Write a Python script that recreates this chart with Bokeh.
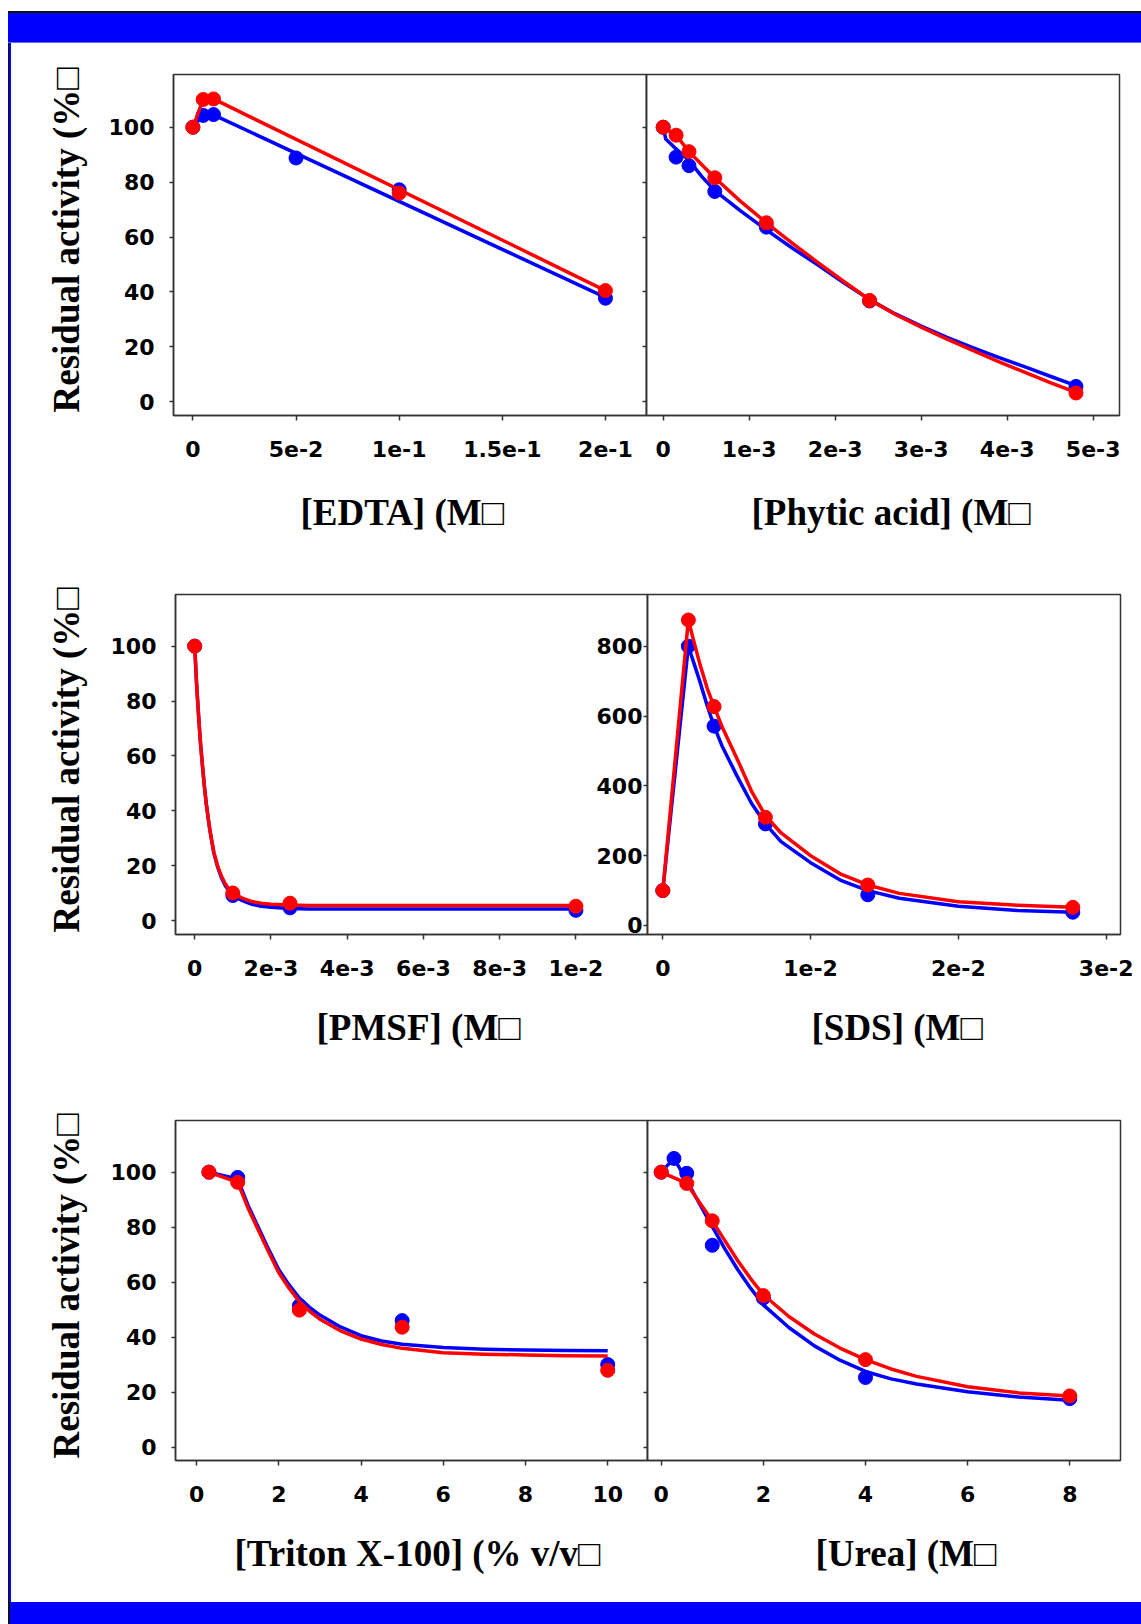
from bokeh.plotting import figure
from bokeh.models import Range1d, FixedTicker, Div, Title
from bokeh.layouts import row, column
from bokeh.embed import file_html
from bokeh.resources import INLINE

# ---------------- data ----------------
# EDTA (M)
edta_blue_x = [0, 0.005, 0.01, 0.05, 0.1, 0.2]
edta_blue_y = [100, 104.3, 104.6, 88.8, 77.2, 37.7]
edta_red_x = [0, 0.005, 0.01, 0.1, 0.2]
edta_red_y = [100, 110.1, 110.3, 76.0, 40.5]
edta_blue_fit_x = [0, 0.005, 0.01, 0.2]
edta_blue_fit_y = [100, 104.5, 104.5, 38.0]
edta_red_fit_x = [0, 0.005, 0.01, 0.2]
edta_red_fit_y = [100, 110.1, 110.3, 40.5]

# Phytic acid (M)
phy_x = [0, 0.00015, 0.0003, 0.0006, 0.0012, 0.0024, 0.0048]
phy_blue_y = [100, 89.1, 86.0, 76.6, 63.6, 36.7, 5.6]
phy_red_y = [100, 97.1, 91.1, 81.6, 65.2, 36.9, 3.2]
phy_blue_fit_x = [0, 0.00003, 0.00015, 0.0003, 0.00045, 0.0006, 0.0009, 0.0012, 0.0015,
                  0.0018, 0.0021, 0.0024, 0.0027, 0.003, 0.0033, 0.0036, 0.0039, 0.0042,
                  0.0045, 0.0048]
phy_blue_fit_y = [100, 95.7, 92.1, 87.9, 82.0, 76.9, 69.5, 62.6, 56.0, 49.8, 43.3, 37.2,
                  32.0, 27.6, 23.5, 19.7, 16.2, 12.8, 9.3, 5.9]
phy_red_fit_x = [0, 0.00015, 0.0003, 0.00045, 0.0006, 0.0009, 0.0012, 0.0015, 0.0018,
                 0.0021, 0.0024, 0.0027, 0.003, 0.0033, 0.0036, 0.0039, 0.0042, 0.0045,
                 0.0048]
phy_red_fit_y = [100, 97.1, 91.1, 86.3, 81.6, 73.0, 65.2, 57.8, 50.7, 43.8, 37.2, 31.8,
                 27.2, 22.8, 18.7, 14.6, 10.8, 7.0, 3.4]

# PMSF (M)
pmsf_x = [0, 0.001, 0.0025, 0.01]
pmsf_blue_y = [100, 9.2, 4.7, 3.8]
pmsf_red_y = [100, 10.1, 6.4, 5.3]
pmsf_fit_x = [0, 0.00005, 0.0001, 0.00015, 0.0002, 0.00025, 0.0003, 0.00035, 0.0004,
              0.0005, 0.0006, 0.0007, 0.0008, 0.0009, 0.001, 0.00125, 0.0015, 0.00175,
              0.002, 0.0025, 0.003, 0.01]
pmsf_blue_fit_y = [100, 86, 75, 65, 57, 49.5, 43, 37.6, 32.8, 24.8, 19.6, 15.7, 12.8,
                   10.8, 9.2, 7.3, 6.0, 5.3, 4.9, 4.5, 4.3, 4.3]
pmsf_red_fit_y = [100, 86, 75, 65, 57, 49.5, 43, 37.8, 33, 25, 20, 16.3, 13.5, 11.5,
                  10.1, 8.2, 7.0, 6.4, 6.0, 5.7, 5.6, 5.6]

# SDS (M)
sds_x = [0, 0.00173, 0.00347, 0.00694, 0.01387, 0.02774]
sds_blue_y = [100, 800, 571, 291, 88, 38]
sds_red_y = [100, 875, 627, 310, 116, 52]
sds_fit_x = [0, 0.00173, 0.002, 0.0025, 0.003, 0.00347, 0.004, 0.005, 0.006, 0.00694,
             0.008, 0.01, 0.012, 0.01387, 0.016, 0.02, 0.024, 0.02774]
sds_blue_fit_y = [100, 800, 765, 700, 630, 571, 515, 430, 350, 291, 240, 180, 130, 100,
                  78, 55, 43, 38]
sds_red_fit_y = [100, 875, 830, 750, 680, 627, 570, 480, 385, 315, 265, 200, 148, 116,
                 92, 68, 58, 52]

# Triton X-100 (% v/v)
tri_x = [0.3, 1, 2.5, 5, 10]
tri_blue_y = [100, 98.1, 51.4, 46.0, 30.0]
tri_red_y = [100, 96.3, 49.8, 43.6, 27.9]
tri_fit_x = [0.3, 1, 1.25, 1.5, 1.75, 2, 2.25, 2.5, 2.75, 3, 3.5, 4, 4.5, 5, 6, 7, 8, 9, 10]
tri_blue_fit_y = [100, 97.5, 88, 80, 72, 64.5, 59, 54.2, 50.8, 48, 43.7, 40.5, 38.6, 37.4,
                  36.2, 35.6, 35.3, 35.1, 35.0]
tri_red_fit_y = [100, 96.3, 87, 79, 71, 63.4, 57.8, 52.9, 49.4, 46.5, 42.3, 39.3, 37.3,
                 35.9, 34.3, 33.8, 33.5, 33.2, 33.1]

# Urea (M)
urea_blue_x = [0, 0.25, 0.5, 1, 2, 4, 8]
urea_blue_y = [100, 105, 99.6, 73.4, 54.2, 25.3, 17.6]
urea_red_x = [0, 0.5, 1, 2, 4, 8]
urea_red_y = [100, 95.9, 82.3, 55.1, 31.8, 18.6]
urea_blue_fit_x = [0, 0.25, 0.5, 0.75, 1, 1.25, 1.5, 1.75, 2, 2.5, 3, 3.5, 4, 4.5, 5, 6, 7, 8]
urea_blue_fit_y = [100, 105, 97, 88.5, 80.2, 72, 64.5, 57.8, 51.7, 43.5, 36.8, 31.6, 27.5,
                   24.8, 22.9, 20.1, 18.2, 17.0]
urea_red_fit_x = [0, 0.5, 0.75, 1, 1.25, 1.5, 1.75, 2, 2.5, 3, 3.5, 4, 4.5, 5, 6, 7, 8]
urea_red_fit_y = [100, 95.9, 89, 82.3, 75, 67.8, 61.3, 55.4, 47.5, 41.1, 36, 31.8, 28.4,
                  25.7, 21.9, 19.7, 18.6]

# ticks and labels
activity_ticks = [0, 20, 40, 60, 80, 100]
activity_labels = ["0", "20", "40", "60", "80", "100"]
blank_labels = ["", "", "", "", "", ""]
sds_y_ticks = [0, 200, 400, 600, 800]
sds_y_labels = ["0", "200", "400", "600", "800"]
edta_ticks = [0, 0.05, 0.1, 0.15, 0.2]
edta_labels = ["0", "5e-2", "1e-1", "1.5e-1", "2e-1"]
phy_ticks = [0, 0.001, 0.002, 0.003, 0.004, 0.005]
phy_labels = ["0", "1e-3", "2e-3", "3e-3", "4e-3", "5e-3"]
pmsf_ticks = [0, 0.002, 0.004, 0.006, 0.008, 0.01]
pmsf_labels = ["0", "2e-3", "4e-3", "6e-3", "8e-3", "1e-2"]
sds_ticks = [0, 0.01, 0.02, 0.03]
sds_labels = ["0", "1e-2", "2e-2", "3e-2"]
tri_ticks = [0, 2, 4, 6, 8, 10]
tri_labels = ["0", "2", "4", "6", "8", "10"]
urea_ticks = [0, 2, 4, 6, 8]
urea_labels = ["0", "2", "4", "6", "8"]

Y_TITLE = "Residual activity (%\u25A1"
BLUE = "#0000FF"
RED = "#FF0000"
AX = "#333333"
TITLE_FONT = "Liberation Serif"
TITLE_SIZE = "37px"


def make_title(text, offset, standoff):
    return Title(text=text, align="left", offset=offset, standoff=standoff,
                 text_font=TITLE_FONT, text_font_style="bold",
                 text_font_size=TITLE_SIZE, text_color="black")


def make_panel(width, height, mb, xr, yr, xticks, xlabels, yticks, ylabels,
               xtitle, title_offset, title_standoff, ytitle=None, ytitle_offset=0,
               ytitle_standoff=40, right=False, y_label_standoff=15, y_tick_out=4):
    l, r, t, b = mb
    p = figure(width=width, height=height,
               x_range=Range1d(*xr), y_range=Range1d(*yr),
               output_backend="svg", toolbar_location=None,
               min_border_left=l, min_border_right=r,
               min_border_top=t, min_border_bottom=b,
               margin=(0, 0, 0, -64) if right else (0, 0, 0, 0))
    p.xgrid.visible = False
    p.ygrid.visible = False
    p.outline_line_color = AX
    p.outline_line_width = 1.5
    p.background_fill_color = "white"
    p.border_fill_alpha = 0
    for ax in (p.xaxis[0], p.yaxis[0]):
        ax.axis_line_color = AX
        ax.axis_line_width = 1.5
        ax.major_tick_line_color = AX
        ax.major_tick_line_width = 1.5
        ax.major_tick_in = 0
        ax.minor_tick_line_color = None
        ax.major_label_text_font = "DejaVu Sans"
        ax.major_label_text_font_style = "bold"
        ax.major_label_text_font_size = "22px"
        ax.major_label_text_color = "black"
    xa = p.xaxis[0]
    xa.ticker = FixedTicker(ticks=xticks)
    xa.major_label_overrides = dict(zip(xticks, xlabels))
    xa.major_tick_out = 5
    xa.major_label_standoff = 20
    ya = p.yaxis[0]
    ya.ticker = FixedTicker(ticks=yticks)
    ya.major_label_overrides = dict(zip(yticks, ylabels))
    ya.major_tick_out = y_tick_out
    ya.major_label_standoff = y_label_standoff
    # axis titles
    p.add_layout(make_title(xtitle, title_offset, title_standoff), "below")
    if ytitle:
        p.add_layout(make_title(ytitle, ytitle_offset, ytitle_standoff), "left")
    return p


def add_series(p, fx, fy, px, py, color):
    p.line(fx, fy, line_color=color, line_width=3.5, line_join="round")
    p.scatter(px, py, size=14, fill_color=color, line_color=color)


# ---------------- row 1 ----------------
p_edta = make_panel(637, 530, (162, 2, 31, 158), (-0.0094, 0.2199), (-5.0, 119.2),
                    edta_ticks, edta_labels, activity_ticks, activity_labels,
                    "[EDTA] (M\u25A1", 127, 61, Y_TITLE, 3, 38)
add_series(p_edta, edta_blue_fit_x, edta_blue_fit_y, edta_blue_x, edta_blue_y, BLUE)
add_series(p_edta, edta_red_fit_x, edta_red_fit_y, edta_red_x, edta_red_y, RED)

p_phy = make_panel(557, 530, (62, 22, 31, 158), (-0.000194, 0.005306), (-5.0, 119.2),
                   phy_ticks, phy_labels, activity_ticks, blank_labels,
                   "[Phytic acid] (M\u25A1", 105, 61, right=True)
add_series(p_phy, phy_blue_fit_x, phy_blue_fit_y, phy_x, phy_blue_y, BLUE)
add_series(p_phy, phy_red_fit_x, phy_red_fit_y, phy_x, phy_red_y, RED)

# ---------------- row 2 ----------------
p_pmsf = make_panel(638, 521, (164, 2, 21, 160), (-0.000504, 0.011878), (-5.0, 118.8),
                    pmsf_ticks, pmsf_labels, activity_ticks, activity_labels,
                    "[PMSF] (M\u25A1", 141, 53, Y_TITLE, 2, 42)
add_series(p_pmsf, pmsf_fit_x, pmsf_blue_fit_y, pmsf_x, pmsf_blue_y, BLUE)
add_series(p_pmsf, pmsf_fit_x, pmsf_red_fit_y, pmsf_x, pmsf_red_y, RED)

p_sds = make_panel(556, 521, (62, 21, 21, 160), (-0.001035, 0.030968), (-25.8, 948),
                   sds_ticks, sds_labels, sds_y_ticks, sds_y_labels,
                   "[SDS] (M\u25A1", 164, 53, right=True,
                   y_label_standoff=1, y_tick_out=4)
add_series(p_sds, sds_fit_x, sds_blue_fit_y, sds_x, sds_blue_y, BLUE)
add_series(p_sds, sds_fit_x, sds_red_fit_y, sds_x, sds_red_y, RED)

# ---------------- row 3 ----------------
p_tri = make_panel(638, 522, (164, 2, 26, 156), (-0.513, 10.968), (-4.9, 118.8),
                   tri_ticks, tri_labels, activity_ticks, activity_labels,
                   "[Triton X-100] (% v/v\u25A1", 59, 53, Y_TITLE, 2, 42)
add_series(p_tri, tri_fit_x, tri_blue_fit_y, tri_x, tri_blue_y, BLUE)
add_series(p_tri, tri_fit_x, tri_red_fit_y, tri_x, tri_red_y, RED)

p_urea = make_panel(556, 522, (62, 21, 26, 156), (-0.268, 8.993), (-4.9, 118.8),
                    urea_ticks, urea_labels, activity_ticks, blank_labels,
                    "[Urea] (M\u25A1", 168, 53, right=True)
add_series(p_urea, urea_blue_fit_x, urea_blue_fit_y, urea_blue_x, urea_blue_y, BLUE)
add_series(p_urea, urea_red_fit_x, urea_red_fit_y, urea_red_x, urea_red_y, RED)

# ---------------- frame decoration ----------------
top_bar = Div(text="", width=1133, height=35, margin=(0, 0, 0, 0),
              styles={"background": "linear-gradient(to bottom, white 0px, white 3px, #111111 3px, #111111 5px, #0000FF 5px, #0000FF 34px, #6a6aff 34px, #6a6aff 35px)"})
stripe = Div(text="", width=3, height=1573, margin=(0, 0, 0, 0),
             styles={"background": "linear-gradient(to right, #111111 0px, #111111 1px, #0000FF 1px, #0000FF 3px)"})
bottom_bar = Div(text="", width=1133, height=22, margin=(-14, 0, 0, 0),
                 styles={"background": "linear-gradient(to right, #111111 0px, #111111 2px, #0000FF 2px)",
                         "position": "relative", "z-index": "10"})

panels = column(row(p_edta, p_phy, spacing=0), row(p_pmsf, p_sds, spacing=0),
                row(p_tri, p_urea, spacing=0), spacing=0)
root = column(top_bar, row(stripe, panels, spacing=0), bottom_bar, spacing=0,
              margin=(8, 0, 0, 8))

open("out.html", "w").write(file_html(root, INLINE))
